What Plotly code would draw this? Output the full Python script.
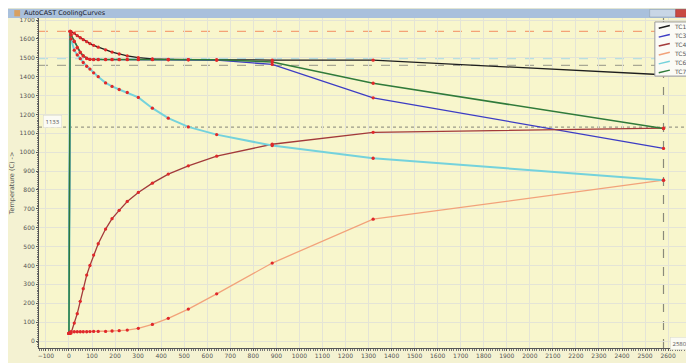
import plotly.graph_objects as go

# ---- data ----
time_s = [0, 5, 9, 23, 36, 49, 62, 77, 91, 107, 127, 159, 187, 218, 253, 301, 362, 431, 518, 641, 882, 1320, 2580]
tc1 = [40, 1640, 1638, 1630, 1617, 1606, 1596, 1585, 1575, 1566, 1556, 1542, 1530, 1520, 1510, 1501, 1494, 1492, 1490, 1489, 1488, 1487, 1410]
tc3 = [40, 1640, 1620, 1585, 1552, 1527, 1509, 1496, 1491, 1490, 1490, 1490, 1490, 1490, 1490, 1490, 1490, 1489, 1489, 1487, 1465, 1288, 1020]
tc4 = [40, 40, 42, 95, 145, 210, 277, 349, 400, 455, 515, 593, 648, 692, 739, 787, 836, 884, 928, 979, 1042, 1105, 1127]
tc5 = [40, 45, 49, 49, 49, 49, 49, 49, 50, 51, 51, 51, 53, 55, 58, 67, 88, 120, 169, 250, 413, 645, 852]
tc6 = [40, 1640, 1600, 1540, 1515, 1495, 1475, 1455, 1440, 1420, 1400, 1367, 1348, 1332, 1316, 1290, 1233, 1180, 1134, 1093, 1035, 968, 852]
tc7 = [40, 1640, 1622, 1588, 1555, 1530, 1511, 1498, 1492, 1491, 1491, 1491, 1491, 1491, 1491, 1491, 1491, 1490, 1490, 1489, 1478, 1365, 1125]

series_names = ["TC1", "TC3", "TC4", "TC5", "TC6", "TC7"]
series_values = [tc1, tc3, tc4, tc5, tc6, tc7]
series_colors = ["#1e1e1e", "#3c3cc4", "#a33a3a", "#f2a27a", "#74d2dc", "#2f7a3a"]
series_widths = [1.3, 1.3, 1.3, 1.3, 2.0, 1.5]

ref_levels = [1640, 1495, 1460, 1133]
ref_colors = ["#f4a276", "#b8e0e0", "#a8a894", "#9a9a88"]
ref_dash = ["dash", "dash", "dash", "dot"]
cut_time = 2580

x_tick_vals = list(range(-100, 2601, 100))
y_tick_vals = list(range(0, 1701, 100))

fig = go.Figure()

for name, vals, col, w in zip(series_names, series_values, series_colors, series_widths):
    fig.add_trace(go.Scatter(x=time_s, y=vals, mode="lines", name=name, showlegend=False,
                             line=dict(color=col, width=w)))
for vals in series_values:
    fig.add_trace(go.Scatter(x=time_s, y=vals, mode="markers", showlegend=False,
                             marker=dict(color="#e0282a", size=3.3), hoverinfo="skip"))

for lvl, col, d in zip(ref_levels, ref_colors, ref_dash):
    fig.add_hline(y=lvl, line=dict(color=col, width=1.2, dash=d), layer="below")
fig.add_vline(x=cut_time, line=dict(color="#8a8a7a", width=1.2, dash="dash"), layer="below")

# window title bar
fig.add_shape(type="rect", xref="paper", yref="paper", x0=-0.07, x1=1.02, y0=1.0, y1=1.028,
              fillcolor="#a9c0dc", line=dict(width=0), layer="above")
fig.add_shape(type="rect", xref="paper", yref="paper", x0=0.938, x1=0.978, y0=1.003, y1=1.026,
              fillcolor="#c8d6e6", line=dict(color="#8899aa", width=0.5))
fig.add_shape(type="rect", xref="paper", yref="paper", x0=0.978, x1=1.006, y0=1.003, y1=1.026,
              fillcolor="#c94a42", line=dict(color="#a03030", width=0.5))
fig.add_shape(type="rect", xref="paper", yref="paper", x0=-0.038, x1=-0.029, y0=1.005, y1=1.024,
              fillcolor="#d8a060", line=dict(width=0))
fig.add_annotation(xref="paper", yref="paper", x=-0.026, y=1.0145, text="AutoCAST CoolingCurves",
                   showarrow=False, xanchor="left", yanchor="middle",
                   font=dict(size=6.5, color="#1a1a2a", family="DejaVu Sans"))

# compact legend box (drawn manually to match the small entries)
fig.add_shape(type="rect", xref="paper", yref="paper", x0=0.946, x1=1.003, y0=0.824, y1=0.988,
              fillcolor="#fbfbf6", line=dict(color="#999999", width=1))
leg_y = [0.973, 0.946, 0.919, 0.892, 0.865, 0.838]
for name, col, yy in zip(series_names, series_colors, leg_y):
    fig.add_shape(type="line", xref="paper", yref="paper", x0=0.952, x1=0.969, y0=yy - 0.004, y1=yy + 0.004,
                  line=dict(color=col, width=1.5))
    fig.add_annotation(xref="paper", yref="paper", x=0.972, y=yy, text=name, showarrow=False,
                       xanchor="left", yanchor="middle",
                       font=dict(size=6, color="#555555", family="DejaVu Sans"))

fig.add_annotation(x=-70, y=1160, text=str(ref_levels[3]), showarrow=False,
                   bgcolor="#fbfbf4", bordercolor="#d8d8cc", borderwidth=0.5, borderpad=2,
                   font=dict(size=6, color="#555555"))
fig.add_annotation(x=2650, y=-12, text=str(cut_time), showarrow=False,
                   bgcolor="#fbfbf4", bordercolor="#d8d8cc", borderwidth=0.5, borderpad=2,
                   font=dict(size=6, color="#555555"))

axis_common = dict(showline=True, linecolor="#555555", linewidth=1, ticks="outside",
                   ticklen=2, tickcolor="#555555", gridcolor="#e4e4d6", gridwidth=1,
                   zeroline=False, tickfont=dict(size=6, color="#555555", family="DejaVu Sans"),
                   mirror=False)

fig.update_layout(
    width=686, height=355,
    margin=dict(l=31, r=4, t=10, b=15),
    paper_bgcolor="#f4f2d2",
    plot_bgcolor="#f8f6cc",
    xaxis=dict(range=[-130, 2695], tickvals=x_tick_vals,
               minor=dict(dtick=10, ticks="outside", ticklen=1.5, tickcolor="#777777", showgrid=False),
               **axis_common),
    yaxis=dict(range=[-37, 1710.6], tickvals=y_tick_vals,
               minor=dict(dtick=10, ticks="outside", ticklen=1.5, tickcolor="#777777", showgrid=False),
               title=dict(text="Temperature (C) ->", font=dict(size=6.5, color="#555555", family="DejaVu Sans"),
                          standoff=4),
               **axis_common),
    showlegend=False,
)

fig.write_html("out.html")
